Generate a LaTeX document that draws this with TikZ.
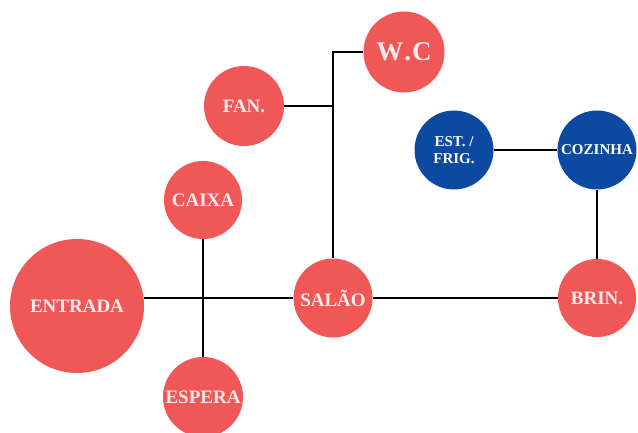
\documentclass[tikz,border=0pt]{standalone}
\usepackage{fontspec}
\setmainfont{Liberation Serif}
\usepackage{xcolor}
\usetikzlibrary{positioning}
\definecolor{vermelho}{RGB}{240,88,88}
\definecolor{azul}{RGB}{12,74,162}
\definecolor{letra}{RGB}{252,236,236}

\begin{document}
\begin{tikzpicture}[x=1pt,y=-1pt,
		sala/.style={circle,fill=vermelho,draw=none,inner sep=0pt,text=letra,font=\bfseries\fontsize{19}{19}\selectfont},
		salaazul/.style={sala,fill=azul,text=white},
		liga/.style={line width=2.3pt,black}]
		\useasboundingbox (0,0) rectangle (638,433);
		% salas
		\node[sala,minimum size=134pt] (entrada) at (77,306) {ENTRADA};
		\node[sala,minimum size=78pt] (caixa) at (203,200) {CAIXA};
		\node[sala,minimum size=80pt] (espera) at (203,397) {ESPERA};
		\node[sala,minimum size=79pt] (salao) at (333,298) {SAL\~AO};
		\node[sala,minimum size=80pt] (fan) at (244,106) {FAN.};
		\node[sala,minimum size=81pt,font=\bfseries\fontsize{27}{27}\selectfont] (wc) at (404,52) {W\kern1pt.\kern1pt C};
		\node[sala,minimum size=78pt] (brin) at (597,298) {BRIN.};
		\node[salaazul,minimum size=79pt,font=\bfseries\fontsize{15}{15}\selectfont] (cozinha) at (597,150) {COZINHA};
		\node[salaazul,minimum size=79pt,align=center,font=\bfseries\fontsize{15}{17}\selectfont] (est) at (454,150) {EST. /\\FRIG.};
		% ligacoes
		\draw[liga] (salao.west) -- (salao.west -| entrada.east);
		\draw[liga] (caixa.south) -- (espera.north);
		\draw[liga] (salao.north) |- (wc.west);
		\draw[liga] (fan.east) -- (fan.east -| salao.north);
		\draw[liga] (salao.east) -- (brin.west);
		\draw[liga] (est.east) -- (cozinha.west);
		\draw[liga] (cozinha.south) -- (brin.north);
	\end{tikzpicture}
\end{document}
